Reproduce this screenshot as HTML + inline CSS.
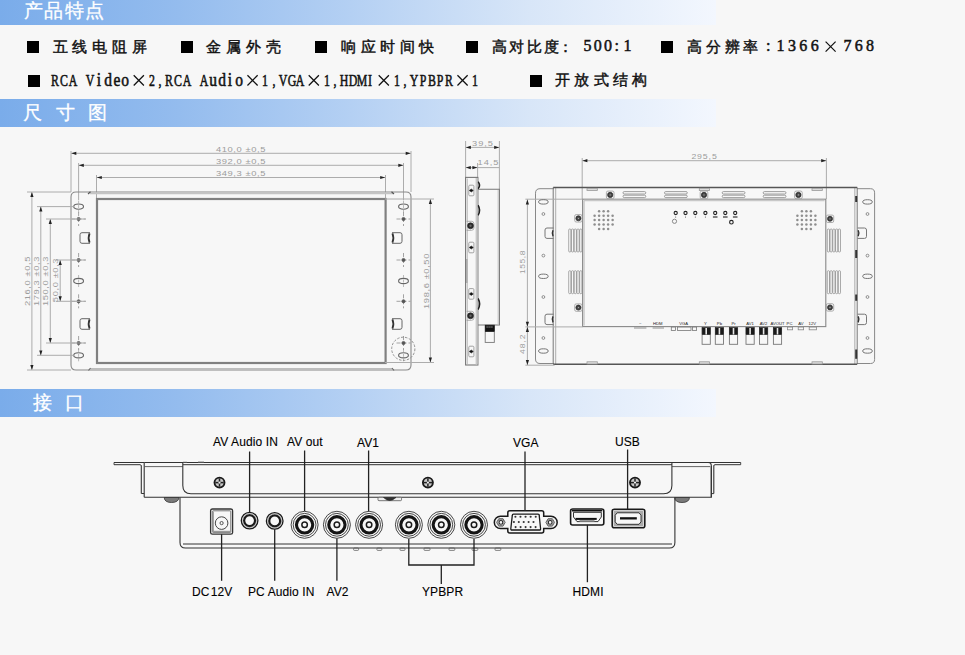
<!DOCTYPE html>
<html><head><meta charset="utf-8"><style>
*{margin:0;padding:0;box-sizing:border-box}
html,body{width:965px;height:655px;overflow:hidden;background:#f7f7f7}
body{position:relative;font-family:"Liberation Sans",sans-serif}
.bar{position:absolute;left:0;width:716px;background:linear-gradient(to right,#7aacea 0%,#94bcee 25%,#b4d0f3 49%,#d8e6f8 74%,#f3f7fe 100%)}
.bt{position:absolute;color:#fff;font-size:18px;line-height:18px;white-space:nowrap;-webkit-text-stroke:0.3px #fff}
.sq{position:absolute;width:12px;height:12px;background:#000}
.t{position:absolute;white-space:nowrap;color:#111;line-height:16px}
.cj{font-size:15px;font-weight:normal;-webkit-text-stroke:0.45px #111}
.mn{font-family:"Liberation Mono",monospace;font-size:14.5px}
svg{position:absolute;left:0;top:0}
.lab{position:absolute;white-space:nowrap;font-size:11.5px;line-height:12px;color:#000;-webkit-text-stroke:0.1px #000}
</style></head>
<body>
<div class="bar" style="top:0;height:25px"></div>
<div class="bt" style="left:23.5px;top:2px;letter-spacing:1.5px;font-size:19px">产品特点</div>
<div class="bar" style="top:99px;height:28px"></div>
<div class="bt" style="left:23px;top:103.5px;font-size:19px">尺</div>
<div class="bt" style="left:55.5px;top:103.5px;font-size:19px">寸</div>
<div class="bt" style="left:87.5px;top:103.5px;font-size:19px">图</div>
<div class="bar" style="top:389px;height:27.5px"></div>
<div class="bt" style="left:32.5px;top:393.5px;font-size:19px">接</div>
<div class="bt" style="left:65px;top:393.5px;font-size:19px">口</div>
<div class="sq" style="left:26.6px;top:40.8px"></div>
<div class="sq" style="left:180.6px;top:41px"></div>
<div class="sq" style="left:315.2px;top:41px"></div>
<div class="sq" style="left:466px;top:41px"></div>
<div class="sq" style="left:661px;top:41px"></div>
<div class="sq" style="left:28px;top:75px"></div>
<div class="sq" style="left:529.5px;top:75px"></div>
<div class="t cj" style="left:52.5px;top:38.5px;letter-spacing:4.9px;font-size:15px">五线电阻屏</div>
<div class="t cj" style="left:206px;top:38.5px;letter-spacing:4.9px;font-size:15px">金属外壳</div>
<div class="t cj" style="left:341px;top:38.5px;letter-spacing:4.6px;font-size:15px">响应时间快</div>
<div class="t cj" style="left:492px;top:38.5px;letter-spacing:2.4px;font-size:15px">高对比度</div>
<div class="t cj" style="left:558.3px;top:38.5px;letter-spacing:0px;font-size:15px">：</div>
<div class="t cj" style="left:687px;top:38.5px;letter-spacing:3.8px;font-size:15px">高分辨率</div>
<div class="t cj" style="left:555px;top:72px;letter-spacing:4.3px;font-size:15px">开放式结构</div>
<div class="t" style="left:583.5px;top:38px;letter-spacing:2.3px;font-size:16px;font-weight:normal;-webkit-text-stroke:0.5px #111;font-family:'Liberation Serif',serif">500:</div>
<div class="t" style="left:623.5px;top:38px;letter-spacing:0px;font-size:16px;font-weight:normal;-webkit-text-stroke:0.5px #111;font-family:'Liberation Serif',serif">1</div>
<div class="t" style="left:766px;top:38px;letter-spacing:0px;font-size:16px;font-weight:normal;-webkit-text-stroke:0.5px #111;font-family:'Liberation Serif',serif">:</div>
<div class="t" style="left:776.5px;top:38px;letter-spacing:3.4px;font-size:16px;font-weight:normal;-webkit-text-stroke:0.5px #111;font-family:'Liberation Serif',serif">1366</div>
<div class="t" style="left:843.5px;top:38px;letter-spacing:3.3px;font-size:16px;font-weight:normal;-webkit-text-stroke:0.5px #111;font-family:'Liberation Serif',serif">768</div>
<div class="t" style="left:45.38px;top:71.50px;width:20px;text-align:center;font-family:'Liberation Serif',serif;font-size:16px;line-height:18px;transform:scaleX(0.74);-webkit-text-stroke:0.55px #111">R</div>
<div class="t" style="left:54.12px;top:71.50px;width:20px;text-align:center;font-family:'Liberation Serif',serif;font-size:16px;line-height:18px;transform:scaleX(0.74);-webkit-text-stroke:0.55px #111">C</div>
<div class="t" style="left:62.88px;top:71.50px;width:20px;text-align:center;font-family:'Liberation Serif',serif;font-size:16px;line-height:18px;transform:scaleX(0.74);-webkit-text-stroke:0.55px #111">A</div>
<div class="t" style="left:80.38px;top:71.50px;width:20px;text-align:center;font-family:'Liberation Serif',serif;font-size:16px;line-height:18px;transform:scaleX(0.74);-webkit-text-stroke:0.55px #111">V</div>
<div class="t" style="left:89.12px;top:70.83px;width:20px;text-align:center;font-family:'Liberation Serif',serif;font-size:18px;line-height:18px;transform:scaleX(0.86);-webkit-text-stroke:0.55px #111">i</div>
<div class="t" style="left:97.88px;top:70.83px;width:20px;text-align:center;font-family:'Liberation Serif',serif;font-size:18px;line-height:18px;transform:scaleX(0.86);-webkit-text-stroke:0.55px #111">d</div>
<div class="t" style="left:106.62px;top:70.83px;width:20px;text-align:center;font-family:'Liberation Serif',serif;font-size:18px;line-height:18px;transform:scaleX(0.86);-webkit-text-stroke:0.55px #111">e</div>
<div class="t" style="left:115.38px;top:70.83px;width:20px;text-align:center;font-family:'Liberation Serif',serif;font-size:18px;line-height:18px;transform:scaleX(0.86);-webkit-text-stroke:0.55px #111">o</div>
<div class="t" style="left:141.62px;top:71.50px;width:20px;text-align:center;font-family:'Liberation Serif',serif;font-size:16px;line-height:18px;transform:scaleX(0.74);-webkit-text-stroke:0.55px #111">2</div>
<div class="t" style="left:150.38px;top:71.50px;width:20px;text-align:center;font-family:'Liberation Serif',serif;font-size:16px;line-height:18px;transform:scaleX(0.74);-webkit-text-stroke:0.55px #111">,</div>
<div class="t" style="left:159.12px;top:71.50px;width:20px;text-align:center;font-family:'Liberation Serif',serif;font-size:16px;line-height:18px;transform:scaleX(0.74);-webkit-text-stroke:0.55px #111">R</div>
<div class="t" style="left:167.88px;top:71.50px;width:20px;text-align:center;font-family:'Liberation Serif',serif;font-size:16px;line-height:18px;transform:scaleX(0.74);-webkit-text-stroke:0.55px #111">C</div>
<div class="t" style="left:176.62px;top:71.50px;width:20px;text-align:center;font-family:'Liberation Serif',serif;font-size:16px;line-height:18px;transform:scaleX(0.74);-webkit-text-stroke:0.55px #111">A</div>
<div class="t" style="left:194.12px;top:71.50px;width:20px;text-align:center;font-family:'Liberation Serif',serif;font-size:16px;line-height:18px;transform:scaleX(0.74);-webkit-text-stroke:0.55px #111">A</div>
<div class="t" style="left:202.88px;top:70.83px;width:20px;text-align:center;font-family:'Liberation Serif',serif;font-size:18px;line-height:18px;transform:scaleX(0.86);-webkit-text-stroke:0.55px #111">u</div>
<div class="t" style="left:211.62px;top:70.83px;width:20px;text-align:center;font-family:'Liberation Serif',serif;font-size:18px;line-height:18px;transform:scaleX(0.86);-webkit-text-stroke:0.55px #111">d</div>
<div class="t" style="left:220.38px;top:70.83px;width:20px;text-align:center;font-family:'Liberation Serif',serif;font-size:18px;line-height:18px;transform:scaleX(0.86);-webkit-text-stroke:0.55px #111">i</div>
<div class="t" style="left:229.12px;top:70.83px;width:20px;text-align:center;font-family:'Liberation Serif',serif;font-size:18px;line-height:18px;transform:scaleX(0.86);-webkit-text-stroke:0.55px #111">o</div>
<div class="t" style="left:255.38px;top:71.50px;width:20px;text-align:center;font-family:'Liberation Serif',serif;font-size:16px;line-height:18px;transform:scaleX(0.74);-webkit-text-stroke:0.55px #111">1</div>
<div class="t" style="left:264.12px;top:71.50px;width:20px;text-align:center;font-family:'Liberation Serif',serif;font-size:16px;line-height:18px;transform:scaleX(0.74);-webkit-text-stroke:0.55px #111">,</div>
<div class="t" style="left:272.88px;top:71.50px;width:20px;text-align:center;font-family:'Liberation Serif',serif;font-size:16px;line-height:18px;transform:scaleX(0.74);-webkit-text-stroke:0.55px #111">V</div>
<div class="t" style="left:281.62px;top:71.50px;width:20px;text-align:center;font-family:'Liberation Serif',serif;font-size:16px;line-height:18px;transform:scaleX(0.74);-webkit-text-stroke:0.55px #111">G</div>
<div class="t" style="left:290.38px;top:71.50px;width:20px;text-align:center;font-family:'Liberation Serif',serif;font-size:16px;line-height:18px;transform:scaleX(0.74);-webkit-text-stroke:0.55px #111">A</div>
<div class="t" style="left:316.62px;top:71.50px;width:20px;text-align:center;font-family:'Liberation Serif',serif;font-size:16px;line-height:18px;transform:scaleX(0.74);-webkit-text-stroke:0.55px #111">1</div>
<div class="t" style="left:325.38px;top:71.50px;width:20px;text-align:center;font-family:'Liberation Serif',serif;font-size:16px;line-height:18px;transform:scaleX(0.74);-webkit-text-stroke:0.55px #111">,</div>
<div class="t" style="left:334.12px;top:71.50px;width:20px;text-align:center;font-family:'Liberation Serif',serif;font-size:16px;line-height:18px;transform:scaleX(0.74);-webkit-text-stroke:0.55px #111">H</div>
<div class="t" style="left:342.88px;top:71.50px;width:20px;text-align:center;font-family:'Liberation Serif',serif;font-size:16px;line-height:18px;transform:scaleX(0.74);-webkit-text-stroke:0.55px #111">D</div>
<div class="t" style="left:351.62px;top:71.50px;width:20px;text-align:center;font-family:'Liberation Serif',serif;font-size:16px;line-height:18px;transform:scaleX(0.74);-webkit-text-stroke:0.55px #111">M</div>
<div class="t" style="left:360.38px;top:71.50px;width:20px;text-align:center;font-family:'Liberation Serif',serif;font-size:16px;line-height:18px;transform:scaleX(0.74);-webkit-text-stroke:0.55px #111">I</div>
<div class="t" style="left:386.62px;top:71.50px;width:20px;text-align:center;font-family:'Liberation Serif',serif;font-size:16px;line-height:18px;transform:scaleX(0.74);-webkit-text-stroke:0.55px #111">1</div>
<div class="t" style="left:395.38px;top:71.50px;width:20px;text-align:center;font-family:'Liberation Serif',serif;font-size:16px;line-height:18px;transform:scaleX(0.74);-webkit-text-stroke:0.55px #111">,</div>
<div class="t" style="left:404.12px;top:71.50px;width:20px;text-align:center;font-family:'Liberation Serif',serif;font-size:16px;line-height:18px;transform:scaleX(0.74);-webkit-text-stroke:0.55px #111">Y</div>
<div class="t" style="left:412.88px;top:71.50px;width:20px;text-align:center;font-family:'Liberation Serif',serif;font-size:16px;line-height:18px;transform:scaleX(0.74);-webkit-text-stroke:0.55px #111">P</div>
<div class="t" style="left:421.62px;top:71.50px;width:20px;text-align:center;font-family:'Liberation Serif',serif;font-size:16px;line-height:18px;transform:scaleX(0.74);-webkit-text-stroke:0.55px #111">B</div>
<div class="t" style="left:430.38px;top:71.50px;width:20px;text-align:center;font-family:'Liberation Serif',serif;font-size:16px;line-height:18px;transform:scaleX(0.74);-webkit-text-stroke:0.55px #111">P</div>
<div class="t" style="left:439.12px;top:71.50px;width:20px;text-align:center;font-family:'Liberation Serif',serif;font-size:16px;line-height:18px;transform:scaleX(0.74);-webkit-text-stroke:0.55px #111">R</div>
<div class="t" style="left:465.38px;top:71.50px;width:20px;text-align:center;font-family:'Liberation Serif',serif;font-size:16px;line-height:18px;transform:scaleX(0.74);-webkit-text-stroke:0.55px #111">1</div>
<div class="lab" style="left:213px;top:435.5px;font-size:12px;letter-spacing:0.1px">AV Audio IN</div>
<div class="lab" style="left:287px;top:435.5px;font-size:12px;letter-spacing:0.1px">AV out</div>
<div class="lab" style="left:357px;top:436.5px;font-size:12px;letter-spacing:0.1px">AV1</div>
<div class="lab" style="left:513px;top:437px;font-size:12px;letter-spacing:0.1px">VGA</div>
<div class="lab" style="left:615px;top:436px;font-size:12px;letter-spacing:0.1px">USB</div>
<div class="lab" style="left:192px;top:585.5px;font-size:12px;letter-spacing:0.1px">DC&#8202;12V</div>
<div class="lab" style="left:248px;top:585.5px;font-size:12px;letter-spacing:0.1px">PC Audio IN</div>
<div class="lab" style="left:326.5px;top:585.5px;font-size:12px;letter-spacing:0.1px">AV2</div>
<div class="lab" style="left:422px;top:585.5px;font-size:12px;letter-spacing:0.1px">YPBPR</div>
<div class="lab" style="left:572.5px;top:586px;font-size:12px;letter-spacing:0.1px">HDMI</div>
<svg width="965" height="655" viewBox="0 0 965 655">
<path d="M825.60 41.60L835.60 51.60M835.60 41.60L825.60 51.60" stroke="#111" stroke-width="1.2" fill="none"/>
<path d="M133.70 75.30L143.90 85.50M143.90 75.30L133.70 85.50" stroke="#111" stroke-width="1.25" fill="none"/>
<path d="M247.45 75.30L257.65 85.50M257.65 75.30L247.45 85.50" stroke="#111" stroke-width="1.25" fill="none"/>
<path d="M308.70 75.30L318.90 85.50M318.90 75.30L308.70 85.50" stroke="#111" stroke-width="1.25" fill="none"/>
<path d="M378.70 75.30L388.90 85.50M388.90 75.30L378.70 85.50" stroke="#111" stroke-width="1.25" fill="none"/>
<path d="M457.45 75.30L467.65 85.50M467.65 75.30L457.45 85.50" stroke="#111" stroke-width="1.25" fill="none"/>
<line x1="71" y1="151" x2="71" y2="192" stroke="#acacac" stroke-width="1" />
<line x1="411" y1="151" x2="411" y2="192" stroke="#acacac" stroke-width="1" />
<line x1="78.6" y1="163" x2="78.6" y2="200" stroke="#acacac" stroke-width="1" />
<line x1="403.5" y1="163" x2="403.5" y2="200" stroke="#acacac" stroke-width="1" />
<line x1="96.5" y1="175" x2="96.5" y2="199" stroke="#acacac" stroke-width="1" />
<line x1="385.5" y1="175" x2="385.5" y2="199" stroke="#acacac" stroke-width="1" />
<line x1="71.3" y1="153.3" x2="410.7" y2="153.3" stroke="#acacac" stroke-width="1" />
<polygon points="71.3,153.3 76.3,151.7 76.3,154.9" fill="#222"/>
<polygon points="410.7,153.3 405.7,151.7 405.7,154.9" fill="#222"/>
<line x1="78.8" y1="165.3" x2="403.3" y2="165.3" stroke="#acacac" stroke-width="1" />
<polygon points="78.8,165.3 83.8,163.7 83.8,166.9" fill="#222"/>
<polygon points="403.3,165.3 398.3,163.7 398.3,166.9" fill="#222"/>
<line x1="96.8" y1="177.5" x2="385.2" y2="177.5" stroke="#acacac" stroke-width="1" />
<polygon points="96.8,177.5 101.8,175.9 101.8,179.1" fill="#222"/>
<polygon points="385.2,177.5 380.2,175.9 380.2,179.1" fill="#222"/>
<text x="0" y="0" transform="translate(241,152) scale(1.2,1)" font-family="Liberation Sans, sans-serif" font-size="7.8" letter-spacing="0.5" fill="#9c9c9c" text-anchor="middle">410,0 ±0,5</text>
<text x="0" y="0" transform="translate(241,164) scale(1.2,1)" font-family="Liberation Sans, sans-serif" font-size="7.8" letter-spacing="0.5" fill="#9c9c9c" text-anchor="middle">392,0 ±0,5</text>
<text x="0" y="0" transform="translate(241,176) scale(1.2,1)" font-family="Liberation Sans, sans-serif" font-size="7.8" letter-spacing="0.5" fill="#9c9c9c" text-anchor="middle">349,3 ±0,5</text>
<path d="M71 197Q71 192 76 192L406 192Q411 192 411 197L411 365Q411 370 406 370L76 370Q71 370 71 365Z" stroke="#8a8a8a" stroke-width="1.1" fill="none" />
<line x1="90" y1="193.2" x2="393" y2="193.2" stroke="#c4c4c4" stroke-width="2" />
<line x1="88" y1="194" x2="90.5" y2="191.8" stroke="#555" stroke-width="1.2" />
<line x1="394" y1="194" x2="391.5" y2="191.8" stroke="#555" stroke-width="1.2" />
<line x1="90" y1="369.2" x2="392.5" y2="369.2" stroke="#bdbdbd" stroke-width="2.6" />
<line x1="88.5" y1="370.5" x2="90.5" y2="368" stroke="#666" stroke-width="1.1" />
<line x1="394" y1="370.5" x2="392" y2="368" stroke="#666" stroke-width="1.1" />
<rect x="97" y="199" width="288.6" height="164" rx="0" stroke="#808080" stroke-width="2.2" fill="none" />
<ellipse cx="78.6" cy="206.6" rx="4.9" ry="2.6" stroke="#666" stroke-width="1.1" fill="none"/>
<line x1="78.6" y1="200.6" x2="78.6" y2="212.6" stroke="#aaa" stroke-width="0.8" stroke-dasharray="3 1.5"/>
<ellipse cx="78.6" cy="281" rx="4.9" ry="2.6" stroke="#666" stroke-width="1.1" fill="none"/>
<line x1="78.6" y1="275" x2="78.6" y2="287" stroke="#aaa" stroke-width="0.8" stroke-dasharray="3 1.5"/>
<ellipse cx="78.6" cy="355.3" rx="4.9" ry="2.6" stroke="#666" stroke-width="1.1" fill="none"/>
<line x1="78.6" y1="349.3" x2="78.6" y2="361.3" stroke="#aaa" stroke-width="0.8" stroke-dasharray="3 1.5"/>
<line x1="71.6" y1="219" x2="85.6" y2="219" stroke="#999" stroke-width="0.9" stroke-dasharray="4 2"/>
<line x1="78.6" y1="212" x2="78.6" y2="226" stroke="#999" stroke-width="0.9" stroke-dasharray="4 2"/>
<circle cx="78.6" cy="219" r="1.6" stroke="#555" stroke-width="0.8" fill="#555" />
<line x1="71.6" y1="260" x2="85.6" y2="260" stroke="#999" stroke-width="0.9" stroke-dasharray="4 2"/>
<line x1="78.6" y1="253" x2="78.6" y2="267" stroke="#999" stroke-width="0.9" stroke-dasharray="4 2"/>
<circle cx="78.6" cy="260" r="1.6" stroke="#555" stroke-width="0.8" fill="#555" />
<line x1="71.6" y1="301.3" x2="85.6" y2="301.3" stroke="#999" stroke-width="0.9" stroke-dasharray="4 2"/>
<line x1="78.6" y1="294.3" x2="78.6" y2="308.3" stroke="#999" stroke-width="0.9" stroke-dasharray="4 2"/>
<circle cx="78.6" cy="301.3" r="1.6" stroke="#555" stroke-width="0.8" fill="#555" />
<line x1="71.6" y1="343" x2="85.6" y2="343" stroke="#999" stroke-width="0.9" stroke-dasharray="4 2"/>
<line x1="78.6" y1="336" x2="78.6" y2="350" stroke="#999" stroke-width="0.9" stroke-dasharray="4 2"/>
<circle cx="78.6" cy="343" r="1.6" stroke="#555" stroke-width="0.8" fill="#555" />
<ellipse cx="403.5" cy="206.6" rx="4.9" ry="2.6" stroke="#666" stroke-width="1.1" fill="none"/>
<line x1="403.5" y1="200.6" x2="403.5" y2="212.6" stroke="#aaa" stroke-width="0.8" stroke-dasharray="3 1.5"/>
<ellipse cx="403.5" cy="281" rx="4.9" ry="2.6" stroke="#666" stroke-width="1.1" fill="none"/>
<line x1="403.5" y1="275" x2="403.5" y2="287" stroke="#aaa" stroke-width="0.8" stroke-dasharray="3 1.5"/>
<ellipse cx="403.5" cy="355.3" rx="4.9" ry="2.6" stroke="#666" stroke-width="1.1" fill="none"/>
<line x1="403.5" y1="349.3" x2="403.5" y2="361.3" stroke="#aaa" stroke-width="0.8" stroke-dasharray="3 1.5"/>
<line x1="396.5" y1="219" x2="410.5" y2="219" stroke="#999" stroke-width="0.9" stroke-dasharray="4 2"/>
<line x1="403.5" y1="212" x2="403.5" y2="226" stroke="#999" stroke-width="0.9" stroke-dasharray="4 2"/>
<circle cx="403.5" cy="219" r="1.6" stroke="#555" stroke-width="0.8" fill="#555" />
<line x1="396.5" y1="260" x2="410.5" y2="260" stroke="#999" stroke-width="0.9" stroke-dasharray="4 2"/>
<line x1="403.5" y1="253" x2="403.5" y2="267" stroke="#999" stroke-width="0.9" stroke-dasharray="4 2"/>
<circle cx="403.5" cy="260" r="1.6" stroke="#555" stroke-width="0.8" fill="#555" />
<line x1="396.5" y1="301.3" x2="410.5" y2="301.3" stroke="#999" stroke-width="0.9" stroke-dasharray="4 2"/>
<line x1="403.5" y1="294.3" x2="403.5" y2="308.3" stroke="#999" stroke-width="0.9" stroke-dasharray="4 2"/>
<circle cx="403.5" cy="301.3" r="1.6" stroke="#555" stroke-width="0.8" fill="#555" />
<line x1="396.5" y1="343" x2="410.5" y2="343" stroke="#999" stroke-width="0.9" stroke-dasharray="4 2"/>
<line x1="403.5" y1="336" x2="403.5" y2="350" stroke="#999" stroke-width="0.9" stroke-dasharray="4 2"/>
<circle cx="403.5" cy="343" r="1.6" stroke="#555" stroke-width="0.8" fill="#555" />
<path d="M90 232.7L82 232.7Q80 232.7 80 234.7L80 241.3Q80 243.3 82 243.3L90 243.3" stroke="#666" stroke-width="1" fill="none" />
<path d="M89.6 233.4Q87.6 238 89.6 242.6" stroke="#333" stroke-width="1.8" fill="none" />
<path d="M392 232.7L400 232.7Q402 232.7 402 234.7L402 241.3Q402 243.3 400 243.3L392 243.3" stroke="#666" stroke-width="1" fill="none" />
<path d="M392.4 233.4Q394.4 238 392.4 242.6" stroke="#333" stroke-width="1.8" fill="none" />
<path d="M90 318.7L82 318.7Q80 318.7 80 320.7L80 327.3Q80 329.3 82 329.3L90 329.3" stroke="#666" stroke-width="1" fill="none" />
<path d="M89.6 319.4Q87.6 324 89.6 328.6" stroke="#333" stroke-width="1.8" fill="none" />
<path d="M392 318.7L400 318.7Q402 318.7 402 320.7L402 327.3Q402 329.3 400 329.3L392 329.3" stroke="#666" stroke-width="1" fill="none" />
<path d="M392.4 319.4Q394.4 324 392.4 328.6" stroke="#333" stroke-width="1.8" fill="none" />
<circle cx="403.3" cy="348.8" r="11.6" stroke="#888" stroke-width="0.9" fill="none" stroke-dasharray="2.5 1.5"/>
<line x1="31.9" y1="192" x2="31.9" y2="370" stroke="#acacac" stroke-width="1" />
<polygon points="31.9,192 30.3,197 33.5,197" fill="#222"/>
<polygon points="31.9,370 30.3,365 33.5,365" fill="#222"/>
<line x1="40.8" y1="206.4" x2="40.8" y2="355.5" stroke="#acacac" stroke-width="1" />
<polygon points="40.8,206.4 39.2,211.4 42.4,211.4" fill="#222"/>
<polygon points="40.8,355.5 39.2,350.5 42.4,350.5" fill="#222"/>
<line x1="50.3" y1="219" x2="50.3" y2="343" stroke="#acacac" stroke-width="1" />
<polygon points="50.3,219 48.7,224 51.9,224" fill="#222"/>
<polygon points="50.3,343 48.7,338 51.9,338" fill="#222"/>
<line x1="60.2" y1="260" x2="60.2" y2="301.3" stroke="#acacac" stroke-width="1" />
<polygon points="60.2,260 58.6,265 61.8,265" fill="#222"/>
<polygon points="60.2,301.3 58.6,296.3 61.8,296.3" fill="#222"/>
<line x1="27" y1="192" x2="71" y2="192" stroke="#acacac" stroke-width="1" />
<line x1="27" y1="370" x2="71" y2="370" stroke="#acacac" stroke-width="1" />
<line x1="37" y1="206.6" x2="73.8" y2="206.6" stroke="#acacac" stroke-width="1" />
<line x1="37" y1="355.3" x2="73.8" y2="355.3" stroke="#acacac" stroke-width="1" />
<line x1="46" y1="219" x2="86" y2="219" stroke="#acacac" stroke-width="1" />
<line x1="46" y1="343" x2="86" y2="343" stroke="#acacac" stroke-width="1" />
<line x1="56" y1="260" x2="86" y2="260" stroke="#acacac" stroke-width="1" />
<line x1="56" y1="301.3" x2="86" y2="301.3" stroke="#acacac" stroke-width="1" />
<text x="0" y="0" transform="translate(29.5,281) rotate(-90) scale(1.2,1)" font-family="Liberation Sans, sans-serif" font-size="7.8" letter-spacing="0.5" fill="#9c9c9c" text-anchor="middle">216,0 ±0,5</text>
<text x="0" y="0" transform="translate(38.9,281) rotate(-90) scale(1.2,1)" font-family="Liberation Sans, sans-serif" font-size="7.8" letter-spacing="0.5" fill="#9c9c9c" text-anchor="middle">179,3 ±0,3</text>
<text x="0" y="0" transform="translate(48.4,281) rotate(-90) scale(1.2,1)" font-family="Liberation Sans, sans-serif" font-size="7.8" letter-spacing="0.5" fill="#9c9c9c" text-anchor="middle">150,0 ±0,3</text>
<text x="0" y="0" transform="translate(58.4,280) rotate(-90) scale(1.2,1)" font-family="Liberation Sans, sans-serif" font-size="7.8" letter-spacing="0.5" fill="#9c9c9c" text-anchor="middle">50,0 ±0,3</text>
<line x1="430.4" y1="199" x2="430.4" y2="362.5" stroke="#acacac" stroke-width="1" />
<polygon points="430.4,199 428.8,204 432,204" fill="#222"/>
<polygon points="430.4,362.5 428.8,357.5 432,357.5" fill="#222"/>
<line x1="385" y1="199" x2="434" y2="199" stroke="#acacac" stroke-width="1" />
<line x1="385" y1="362.5" x2="434" y2="362.5" stroke="#acacac" stroke-width="1" />
<text x="0" y="0" transform="translate(429,281) rotate(-90) scale(1.2,1)" font-family="Liberation Sans, sans-serif" font-size="7.8" letter-spacing="0.5" fill="#9c9c9c" text-anchor="middle">198,6 ±0,50</text>
<line x1="465.6" y1="141" x2="465.6" y2="177.4" stroke="#acacac" stroke-width="1" />
<line x1="477.6" y1="163" x2="477.6" y2="177.4" stroke="#acacac" stroke-width="1" />
<line x1="499.4" y1="141" x2="499.4" y2="189.3" stroke="#acacac" stroke-width="1" />
<line x1="465.8" y1="147.4" x2="499.2" y2="147.4" stroke="#acacac" stroke-width="1" />
<polygon points="465.8,147.4 470.8,145.8 470.8,149" fill="#222"/>
<polygon points="499.2,147.4 494.2,145.8 494.2,149" fill="#222"/>
<text x="0" y="0" transform="translate(483,146) scale(1.2,1)" font-family="Liberation Sans, sans-serif" font-size="7.7" letter-spacing="0.8" fill="#9c9c9c" text-anchor="middle">39,5</text>
<line x1="465.6" y1="167.6" x2="499.4" y2="167.6" stroke="#acacac" stroke-width="1" />
<polygon points="465.8,167.6 470.8,166 470.8,169.2" fill="#222"/>
<polygon points="477.4,167.6 472.4,166 472.4,169.2" fill="#222"/>
<text x="0" y="0" transform="translate(488.5,165.3) scale(1.2,1)" font-family="Liberation Sans, sans-serif" font-size="7.7" letter-spacing="0.8" fill="#9c9c9c" text-anchor="middle">14,5</text>
<rect x="465.6" y="177.4" width="12.3" height="187.6" rx="0" stroke="#777" stroke-width="1.1" fill="none" />
<line x1="467.3" y1="178.5" x2="467.3" y2="364" stroke="#bdbdbd" stroke-width="1" />
<line x1="466.8" y1="259" x2="466.8" y2="283" stroke="#aaa" stroke-width="1.5" />
<path d="M477.9 189.3L499.4 189.3L499.4 325L477.9 325" stroke="#777" stroke-width="1.1" fill="none" />
<line x1="498.2" y1="190" x2="498.2" y2="324.5" stroke="#c8c8c8" stroke-width="1.2" />
<path d="M478 181.7Q481.2 185.25 478 188.8" stroke="#222" stroke-width="1.6" fill="none" />
<path d="M478 205.2Q481.2 210.25 478 215.3" stroke="#222" stroke-width="1.6" fill="none" />
<path d="M478 298.5Q481.2 304.0 478 309.5" stroke="#222" stroke-width="1.6" fill="none" />
<line x1="476.6" y1="178" x2="476.6" y2="364.5" stroke="#c8c8c8" stroke-width="2" />
<rect x="468.8" y="185.2" width="5.1" height="10.6" rx="1" stroke="#999" stroke-width="0.9" fill="none" />
<path d="M469.3 190.5L471.3 189.0L473.3 190.5L471.3 192.0Z" stroke="#111" stroke-width="0.5" fill="#111" />
<rect x="468.8" y="242.2" width="5.1" height="10.6" rx="1" stroke="#999" stroke-width="0.9" fill="none" />
<path d="M469.3 247.5L471.3 246.0L473.3 247.5L471.3 249.0Z" stroke="#111" stroke-width="0.5" fill="#111" />
<rect x="468.8" y="288.6" width="5.1" height="10.6" rx="1" stroke="#999" stroke-width="0.9" fill="none" />
<path d="M469.3 293.9L471.3 292.4L473.3 293.9L471.3 295.4Z" stroke="#111" stroke-width="0.5" fill="#111" />
<rect x="468.8" y="346.2" width="5.1" height="10.6" rx="1" stroke="#999" stroke-width="0.9" fill="none" />
<path d="M469.3 351.5L471.3 350.0L473.3 351.5L471.3 353.0Z" stroke="#111" stroke-width="0.5" fill="#111" />
<path d="M466.5 221.3L471.5 221.3Q474 221.3 474 223.8L474 227.8Q474 230.3 471.5 230.3L466.5 230.3" stroke="#999" stroke-width="0.8" fill="none" />
<circle cx="470.5" cy="225.8" r="3" stroke="#222" stroke-width="0.6" fill="#2a2a2a" />
<circle cx="470.5" cy="225.8" r="1.2" stroke="#777" stroke-width="0" fill="#666" />
<path d="M466.5 311.3L471.5 311.3Q474 311.3 474 313.8L474 317.8Q474 320.3 471.5 320.3L466.5 320.3" stroke="#999" stroke-width="0.8" fill="none" />
<circle cx="470.5" cy="315.8" r="3" stroke="#222" stroke-width="0.6" fill="#2a2a2a" />
<circle cx="470.5" cy="315.8" r="1.2" stroke="#777" stroke-width="0" fill="#666" />
<rect x="485.2" y="325" width="9.1" height="17.4" rx="0" stroke="#777" stroke-width="0.9" fill="none" />
<rect x="485.2" y="325.3" width="9.1" height="6.4" rx="0" stroke="#111" stroke-width="0.5" fill="#111" />
<line x1="486.5" y1="327" x2="493" y2="327" stroke="#ccc" stroke-width="0.9" stroke-dasharray="1.2 0.8"/>
<line x1="582.2" y1="158" x2="582.2" y2="199" stroke="#acacac" stroke-width="1" />
<line x1="826.4" y1="158" x2="826.4" y2="199" stroke="#acacac" stroke-width="1" />
<line x1="582.4" y1="160.7" x2="826.2" y2="160.7" stroke="#acacac" stroke-width="1" />
<polygon points="582.4,160.7 587.4,159.1 587.4,162.3" fill="#222"/>
<polygon points="826.2,160.7 821.2,159.1 821.2,162.3" fill="#222"/>
<text x="0" y="0" transform="translate(704.5,158.9) scale(1.25,1)" font-family="Liberation Sans, sans-serif" font-size="7" letter-spacing="0.7" fill="#9c9c9c" text-anchor="middle">295,5</text>
<path d="M554 188.7L540 188.7Q535.5 188.7 535.5 193.2L535.5 359Q535.5 363.5 540 363.5L554 363.5" stroke="#888" stroke-width="1" fill="none" />
<path d="M857 188.7L870.5 188.7Q874.6 188.7 874.6 192.8L874.6 359.4Q874.6 363.5 870.5 363.5L857 363.5" stroke="#888" stroke-width="1" fill="none" />
<line x1="553.2" y1="187.5" x2="553.2" y2="364" stroke="#777" stroke-width="1" />
<line x1="555.6" y1="187.5" x2="555.6" y2="364" stroke="#bbb" stroke-width="1.3" />
<line x1="857.2" y1="187.5" x2="857.2" y2="364" stroke="#777" stroke-width="1" />
<line x1="854.8" y1="187.5" x2="854.8" y2="364" stroke="#bbb" stroke-width="1.3" />
<line x1="553.2" y1="187.6" x2="857.2" y2="187.6" stroke="#555" stroke-width="1.5" />
<line x1="553.2" y1="364.2" x2="857.2" y2="364.2" stroke="#555" stroke-width="1.6" />
<rect x="582.6" y="199.2" width="243.2" height="127.4" rx="0" stroke="#888" stroke-width="1.1" fill="none" />
<line x1="584" y1="200.5" x2="584" y2="325.5" stroke="#c8c8c8" stroke-width="1.5" />
<line x1="584" y1="200.5" x2="824.6" y2="200.5" stroke="#c8c8c8" stroke-width="1.5" />
<line x1="525.4" y1="199.2" x2="582.6" y2="199.2" stroke="#acacac" stroke-width="1" />
<line x1="525.4" y1="326.9" x2="582.6" y2="326.9" stroke="#acacac" stroke-width="1" />
<line x1="525.4" y1="365.2" x2="554.6" y2="365.2" stroke="#acacac" stroke-width="1" />
<line x1="527.4" y1="199.4" x2="527.4" y2="326.7" stroke="#acacac" stroke-width="1" />
<polygon points="527.4,199.4 525.8,204.4 529,204.4" fill="#222"/>
<polygon points="527.4,326.7 525.8,321.7 529,321.7" fill="#222"/>
<line x1="527.4" y1="327.1" x2="527.4" y2="365" stroke="#acacac" stroke-width="1" />
<polygon points="527.4,327.1 525.8,332.1 529,332.1" fill="#222"/>
<polygon points="527.4,365 525.8,360 529,360" fill="#222"/>
<text x="0" y="0" transform="translate(525.3,262) rotate(-90) scale(1.2,1)" font-family="Liberation Sans, sans-serif" font-size="7" letter-spacing="0.5" fill="#9c9c9c" text-anchor="middle">155,8</text>
<text x="0" y="0" transform="translate(525.3,343.8) rotate(-90) scale(1.2,1)" font-family="Liberation Sans, sans-serif" font-size="7" letter-spacing="0.8" fill="#9c9c9c" text-anchor="middle">48,2</text>
<rect x="606.4" y="191.1" width="7.6" height="7.6" rx="1.5" stroke="#999" stroke-width="0.8" fill="none" />
<circle cx="610.2" cy="194.9" r="2.6" stroke="#333" stroke-width="0.8" fill="#333" />
<circle cx="610.2" cy="194.9" r="1.3" stroke="#666" stroke-width="0.6" fill="none" />
<circle cx="610.2" cy="194.9" r="0.6" stroke="#bbb" stroke-width="0" fill="#bbb" />
<rect x="700.2" y="191.1" width="7.6" height="7.6" rx="1.5" stroke="#999" stroke-width="0.8" fill="none" />
<circle cx="704" cy="194.9" r="2.6" stroke="#333" stroke-width="0.8" fill="#333" />
<circle cx="704" cy="194.9" r="1.3" stroke="#666" stroke-width="0.6" fill="none" />
<circle cx="704" cy="194.9" r="0.6" stroke="#bbb" stroke-width="0" fill="#bbb" />
<rect x="794.6" y="191.1" width="7.6" height="7.6" rx="1.5" stroke="#999" stroke-width="0.8" fill="none" />
<circle cx="798.4" cy="194.9" r="2.6" stroke="#333" stroke-width="0.8" fill="#333" />
<circle cx="798.4" cy="194.9" r="1.3" stroke="#666" stroke-width="0.6" fill="none" />
<circle cx="798.4" cy="194.9" r="0.6" stroke="#bbb" stroke-width="0" fill="#bbb" />
<rect x="623" y="191.6" width="22.8" height="2.4" rx="1.2" stroke="#888" stroke-width="0.8" fill="none" />
<rect x="623" y="195.2" width="22.8" height="2.4" rx="1.2" stroke="#888" stroke-width="0.8" fill="none" />
<rect x="664.5" y="191.6" width="22.8" height="2.4" rx="1.2" stroke="#888" stroke-width="0.8" fill="none" />
<rect x="664.5" y="195.2" width="22.8" height="2.4" rx="1.2" stroke="#888" stroke-width="0.8" fill="none" />
<rect x="722.2" y="191.6" width="22.8" height="2.4" rx="1.2" stroke="#888" stroke-width="0.8" fill="none" />
<rect x="722.2" y="195.2" width="22.8" height="2.4" rx="1.2" stroke="#888" stroke-width="0.8" fill="none" />
<rect x="763.2" y="191.6" width="22.8" height="2.4" rx="1.2" stroke="#888" stroke-width="0.8" fill="none" />
<rect x="763.2" y="195.2" width="22.8" height="2.4" rx="1.2" stroke="#888" stroke-width="0.8" fill="none" />
<rect x="587" y="188.3" width="10.3" height="2.2" rx="0" stroke="#999" stroke-width="0.8" fill="#ddd" />
<rect x="587" y="361.8" width="10.3" height="2.2" rx="0" stroke="#999" stroke-width="0.8" fill="#ddd" />
<rect x="699.3" y="188.3" width="10.3" height="2.2" rx="0" stroke="#999" stroke-width="0.8" fill="#ddd" />
<rect x="699.3" y="361.8" width="10.3" height="2.2" rx="0" stroke="#999" stroke-width="0.8" fill="#ddd" />
<rect x="812" y="188.3" width="10.3" height="2.2" rx="0" stroke="#999" stroke-width="0.8" fill="#ddd" />
<rect x="812" y="361.8" width="10.3" height="2.2" rx="0" stroke="#999" stroke-width="0.8" fill="#ddd" />
<ellipse cx="543.4" cy="201.9" rx="4.8" ry="2.2" stroke="#666" stroke-width="0.9" fill="none"/>
<ellipse cx="543.4" cy="276.3" rx="4.8" ry="2.2" stroke="#666" stroke-width="0.9" fill="none"/>
<ellipse cx="543.4" cy="351" rx="4.8" ry="2.2" stroke="#666" stroke-width="0.9" fill="none"/>
<circle cx="543.4" cy="214" r="1.4" stroke="#777" stroke-width="0.8" fill="none" />
<circle cx="543.4" cy="255.6" r="1.4" stroke="#777" stroke-width="0.8" fill="none" />
<circle cx="543.4" cy="297" r="1.4" stroke="#777" stroke-width="0.8" fill="none" />
<circle cx="543.4" cy="338" r="1.4" stroke="#777" stroke-width="0.8" fill="none" />
<ellipse cx="867.5" cy="201.9" rx="4.8" ry="2.2" stroke="#666" stroke-width="0.9" fill="none"/>
<ellipse cx="867.5" cy="276.3" rx="4.8" ry="2.2" stroke="#666" stroke-width="0.9" fill="none"/>
<ellipse cx="867.5" cy="351" rx="4.8" ry="2.2" stroke="#666" stroke-width="0.9" fill="none"/>
<circle cx="867.5" cy="214" r="1.4" stroke="#777" stroke-width="0.8" fill="none" />
<circle cx="867.5" cy="255.6" r="1.4" stroke="#777" stroke-width="0.8" fill="none" />
<circle cx="867.5" cy="297" r="1.4" stroke="#777" stroke-width="0.8" fill="none" />
<circle cx="867.5" cy="338" r="1.4" stroke="#777" stroke-width="0.8" fill="none" />
<path d="M553.6 228.0L547 228.0Q545 228.0 545 230.0L545 236.39999999999998Q545 238.39999999999998 547 238.39999999999998L553.6 238.39999999999998" stroke="#777" stroke-width="1" fill="none" />
<path d="M553 230.2Q551.5 233.2 553 236.2" stroke="#333" stroke-width="1.4" fill="none" />
<path d="M857.5 228.0L864.5 228.0Q866.5 228.0 866.5 230.0L866.5 236.39999999999998Q866.5 238.39999999999998 864.5 238.39999999999998L857.5 238.39999999999998" stroke="#777" stroke-width="1" fill="none" />
<path d="M858.2 230.2Q859.7 233.2 858.2 236.2" stroke="#333" stroke-width="1.4" fill="none" />
<path d="M553.6 314.2L547 314.2Q545 314.2 545 316.2L545 322.59999999999997Q545 324.59999999999997 547 324.59999999999997L553.6 324.59999999999997" stroke="#777" stroke-width="1" fill="none" />
<path d="M553 316.4Q551.5 319.4 553 322.4" stroke="#333" stroke-width="1.4" fill="none" />
<path d="M857.5 314.2L864.5 314.2Q866.5 314.2 866.5 316.2L866.5 322.59999999999997Q866.5 324.59999999999997 864.5 324.59999999999997L857.5 324.59999999999997" stroke="#777" stroke-width="1" fill="none" />
<path d="M858.2 316.4Q859.7 319.4 858.2 322.4" stroke="#333" stroke-width="1.4" fill="none" />
<line x1="856.2" y1="196" x2="856.2" y2="202" stroke="#333" stroke-width="2" />
<line x1="856.2" y1="250" x2="856.2" y2="258" stroke="#333" stroke-width="2" />
<line x1="856.2" y1="294.5" x2="856.2" y2="300.8" stroke="#333" stroke-width="2" />
<line x1="856.2" y1="349.5" x2="856.2" y2="358.8" stroke="#333" stroke-width="2" />
<rect x="574.7" y="214.6" width="7.4" height="7.4" rx="1.5" stroke="#999" stroke-width="0.8" fill="none" />
<circle cx="578.4" cy="218.3" r="2.5" stroke="#333" stroke-width="0.8" fill="#333" />
<circle cx="578.4" cy="218.3" r="1.2" stroke="#666" stroke-width="0.6" fill="none" />
<circle cx="578.4" cy="218.3" r="0.6" stroke="#bbb" stroke-width="0" fill="#bbb" />
<rect x="574.7" y="303.9" width="7.4" height="7.4" rx="1.5" stroke="#999" stroke-width="0.8" fill="none" />
<circle cx="578.4" cy="307.6" r="2.5" stroke="#333" stroke-width="0.8" fill="#333" />
<circle cx="578.4" cy="307.6" r="1.2" stroke="#666" stroke-width="0.6" fill="none" />
<circle cx="578.4" cy="307.6" r="0.6" stroke="#bbb" stroke-width="0" fill="#bbb" />
<rect x="826.3" y="215.1" width="7.4" height="7.4" rx="1.5" stroke="#999" stroke-width="0.8" fill="none" />
<circle cx="830" cy="218.8" r="2.5" stroke="#333" stroke-width="0.8" fill="#333" />
<circle cx="830" cy="218.8" r="1.2" stroke="#666" stroke-width="0.6" fill="none" />
<circle cx="830" cy="218.8" r="0.6" stroke="#bbb" stroke-width="0" fill="#bbb" />
<rect x="826.3" y="303.7" width="7.4" height="7.4" rx="1.5" stroke="#999" stroke-width="0.8" fill="none" />
<circle cx="830" cy="307.4" r="2.5" stroke="#333" stroke-width="0.8" fill="#333" />
<circle cx="830" cy="307.4" r="1.2" stroke="#666" stroke-width="0.6" fill="none" />
<circle cx="830" cy="307.4" r="0.6" stroke="#bbb" stroke-width="0" fill="#bbb" />
<rect x="568.7" y="229" width="2.2" height="23" rx="1" stroke="#888" stroke-width="0.7" fill="none" />
<rect x="571.45" y="229" width="2.2" height="23" rx="1" stroke="#888" stroke-width="0.7" fill="none" />
<rect x="574.2" y="229" width="2.2" height="23" rx="1" stroke="#888" stroke-width="0.7" fill="none" />
<rect x="576.95" y="229" width="2.2" height="23" rx="1" stroke="#888" stroke-width="0.7" fill="none" />
<rect x="579.7" y="229" width="2.2" height="23" rx="1" stroke="#888" stroke-width="0.7" fill="none" />
<rect x="568.7" y="270.7" width="2.2" height="23" rx="1" stroke="#888" stroke-width="0.7" fill="none" />
<rect x="571.45" y="270.7" width="2.2" height="23" rx="1" stroke="#888" stroke-width="0.7" fill="none" />
<rect x="574.2" y="270.7" width="2.2" height="23" rx="1" stroke="#888" stroke-width="0.7" fill="none" />
<rect x="576.95" y="270.7" width="2.2" height="23" rx="1" stroke="#888" stroke-width="0.7" fill="none" />
<rect x="579.7" y="270.7" width="2.2" height="23" rx="1" stroke="#888" stroke-width="0.7" fill="none" />
<rect x="827.3" y="229" width="2.2" height="23" rx="1" stroke="#888" stroke-width="0.7" fill="none" />
<rect x="830.05" y="229" width="2.2" height="23" rx="1" stroke="#888" stroke-width="0.7" fill="none" />
<rect x="832.8" y="229" width="2.2" height="23" rx="1" stroke="#888" stroke-width="0.7" fill="none" />
<rect x="835.55" y="229" width="2.2" height="23" rx="1" stroke="#888" stroke-width="0.7" fill="none" />
<rect x="838.3" y="229" width="2.2" height="23" rx="1" stroke="#888" stroke-width="0.7" fill="none" />
<rect x="827.3" y="270.7" width="2.2" height="23" rx="1" stroke="#888" stroke-width="0.7" fill="none" />
<rect x="830.05" y="270.7" width="2.2" height="23" rx="1" stroke="#888" stroke-width="0.7" fill="none" />
<rect x="832.8" y="270.7" width="2.2" height="23" rx="1" stroke="#888" stroke-width="0.7" fill="none" />
<rect x="835.55" y="270.7" width="2.2" height="23" rx="1" stroke="#888" stroke-width="0.7" fill="none" />
<rect x="838.3" y="270.7" width="2.2" height="23" rx="1" stroke="#888" stroke-width="0.7" fill="none" />
<circle cx="599.1" cy="211.3" r="1.25" stroke="#888" stroke-width="0" fill="#8e8e8e" />
<circle cx="603.6" cy="211.3" r="1.25" stroke="#888" stroke-width="0" fill="#8e8e8e" />
<circle cx="608.1" cy="211.3" r="1.25" stroke="#888" stroke-width="0" fill="#8e8e8e" />
<circle cx="594.6" cy="215.7" r="1.25" stroke="#888" stroke-width="0" fill="#8e8e8e" />
<circle cx="599.1" cy="215.7" r="1.25" stroke="#888" stroke-width="0" fill="#8e8e8e" />
<circle cx="603.6" cy="215.7" r="1.25" stroke="#888" stroke-width="0" fill="#8e8e8e" />
<circle cx="608.1" cy="215.7" r="1.25" stroke="#888" stroke-width="0" fill="#8e8e8e" />
<circle cx="612.6" cy="215.7" r="1.25" stroke="#888" stroke-width="0" fill="#8e8e8e" />
<circle cx="594.6" cy="220.1" r="1.25" stroke="#888" stroke-width="0" fill="#8e8e8e" />
<circle cx="599.1" cy="220.1" r="1.25" stroke="#888" stroke-width="0" fill="#8e8e8e" />
<circle cx="603.6" cy="220.1" r="1.25" stroke="#888" stroke-width="0" fill="#8e8e8e" />
<circle cx="608.1" cy="220.1" r="1.25" stroke="#888" stroke-width="0" fill="#8e8e8e" />
<circle cx="612.6" cy="220.1" r="1.25" stroke="#888" stroke-width="0" fill="#8e8e8e" />
<circle cx="594.6" cy="224.5" r="1.25" stroke="#888" stroke-width="0" fill="#8e8e8e" />
<circle cx="599.1" cy="224.5" r="1.25" stroke="#888" stroke-width="0" fill="#8e8e8e" />
<circle cx="603.6" cy="224.5" r="1.25" stroke="#888" stroke-width="0" fill="#8e8e8e" />
<circle cx="608.1" cy="224.5" r="1.25" stroke="#888" stroke-width="0" fill="#8e8e8e" />
<circle cx="612.6" cy="224.5" r="1.25" stroke="#888" stroke-width="0" fill="#8e8e8e" />
<circle cx="599.1" cy="228.9" r="1.25" stroke="#888" stroke-width="0" fill="#8e8e8e" />
<circle cx="603.6" cy="228.9" r="1.25" stroke="#888" stroke-width="0" fill="#8e8e8e" />
<circle cx="608.1" cy="228.9" r="1.25" stroke="#888" stroke-width="0" fill="#8e8e8e" />
<circle cx="801.9" cy="211.3" r="1.25" stroke="#888" stroke-width="0" fill="#8e8e8e" />
<circle cx="806.4" cy="211.3" r="1.25" stroke="#888" stroke-width="0" fill="#8e8e8e" />
<circle cx="810.9" cy="211.3" r="1.25" stroke="#888" stroke-width="0" fill="#8e8e8e" />
<circle cx="797.4" cy="215.7" r="1.25" stroke="#888" stroke-width="0" fill="#8e8e8e" />
<circle cx="801.9" cy="215.7" r="1.25" stroke="#888" stroke-width="0" fill="#8e8e8e" />
<circle cx="806.4" cy="215.7" r="1.25" stroke="#888" stroke-width="0" fill="#8e8e8e" />
<circle cx="810.9" cy="215.7" r="1.25" stroke="#888" stroke-width="0" fill="#8e8e8e" />
<circle cx="815.4" cy="215.7" r="1.25" stroke="#888" stroke-width="0" fill="#8e8e8e" />
<circle cx="797.4" cy="220.1" r="1.25" stroke="#888" stroke-width="0" fill="#8e8e8e" />
<circle cx="801.9" cy="220.1" r="1.25" stroke="#888" stroke-width="0" fill="#8e8e8e" />
<circle cx="806.4" cy="220.1" r="1.25" stroke="#888" stroke-width="0" fill="#8e8e8e" />
<circle cx="810.9" cy="220.1" r="1.25" stroke="#888" stroke-width="0" fill="#8e8e8e" />
<circle cx="815.4" cy="220.1" r="1.25" stroke="#888" stroke-width="0" fill="#8e8e8e" />
<circle cx="797.4" cy="224.5" r="1.25" stroke="#888" stroke-width="0" fill="#8e8e8e" />
<circle cx="801.9" cy="224.5" r="1.25" stroke="#888" stroke-width="0" fill="#8e8e8e" />
<circle cx="806.4" cy="224.5" r="1.25" stroke="#888" stroke-width="0" fill="#8e8e8e" />
<circle cx="810.9" cy="224.5" r="1.25" stroke="#888" stroke-width="0" fill="#8e8e8e" />
<circle cx="815.4" cy="224.5" r="1.25" stroke="#888" stroke-width="0" fill="#8e8e8e" />
<circle cx="801.9" cy="228.9" r="1.25" stroke="#888" stroke-width="0" fill="#8e8e8e" />
<circle cx="806.4" cy="228.9" r="1.25" stroke="#888" stroke-width="0" fill="#8e8e8e" />
<circle cx="810.9" cy="228.9" r="1.25" stroke="#888" stroke-width="0" fill="#8e8e8e" />
<circle cx="675.7" cy="213" r="1.6" stroke="#222" stroke-width="1.1" fill="none" />
<circle cx="685.5" cy="213" r="1.6" stroke="#222" stroke-width="1.1" fill="none" />
<circle cx="695.3" cy="213" r="1.6" stroke="#222" stroke-width="1.1" fill="none" />
<circle cx="705.4" cy="213" r="1.6" stroke="#222" stroke-width="1.1" fill="none" />
<circle cx="715.2" cy="213" r="1.6" stroke="#222" stroke-width="1.1" fill="none" />
<circle cx="725.3" cy="213" r="1.6" stroke="#222" stroke-width="1.1" fill="none" />
<circle cx="735.2" cy="213" r="1.6" stroke="#222" stroke-width="1.1" fill="none" />
<circle cx="675.7" cy="217" r="0.5" stroke="#333" stroke-width="0" fill="#333" />
<circle cx="685.5" cy="217" r="0.5" stroke="#333" stroke-width="0" fill="#333" />
<circle cx="695.3" cy="217" r="0.5" stroke="#333" stroke-width="0" fill="#333" />
<circle cx="705.4" cy="217" r="0.5" stroke="#333" stroke-width="0" fill="#333" />
<rect x="712.9" y="216.4" width="4.6" height="1.2" rx="0" stroke="#333" stroke-width="0" fill="#333" />
<rect x="723" y="216.4" width="4.6" height="1.2" rx="0" stroke="#333" stroke-width="0" fill="#333" />
<rect x="732.9" y="216.4" width="4.6" height="1.2" rx="0" stroke="#333" stroke-width="0" fill="#333" />
<circle cx="674.5" cy="221.3" r="2.1" stroke="#888" stroke-width="1" fill="none" />
<circle cx="731.4" cy="222.2" r="1.8" stroke="#222" stroke-width="1.1" fill="none" />
<text x="0" y="0" transform="translate(640.2,324.5) scale(1.2,1)" font-family="Liberation Sans, sans-serif" font-size="3.5" letter-spacing="0" fill="#222" text-anchor="middle">~</text>
<text x="0" y="0" transform="translate(657.8,324.5) scale(1.2,1)" font-family="Liberation Sans, sans-serif" font-size="3.5" letter-spacing="0" fill="#222" text-anchor="middle">HDM</text>
<text x="0" y="0" transform="translate(683.7,324.5) scale(1.2,1)" font-family="Liberation Sans, sans-serif" font-size="3.5" letter-spacing="0" fill="#222" text-anchor="middle">VGA</text>
<text x="0" y="0" transform="translate(705.5,324.5) scale(1.2,1)" font-family="Liberation Sans, sans-serif" font-size="3.5" letter-spacing="0" fill="#222" text-anchor="middle">Y</text>
<text x="0" y="0" transform="translate(719.4,324.5) scale(1.2,1)" font-family="Liberation Sans, sans-serif" font-size="3.5" letter-spacing="0" fill="#222" text-anchor="middle">Pb</text>
<text x="0" y="0" transform="translate(733.5,324.5) scale(1.2,1)" font-family="Liberation Sans, sans-serif" font-size="3.5" letter-spacing="0" fill="#222" text-anchor="middle">Pr</text>
<text x="0" y="0" transform="translate(750.1,324.5) scale(1.2,1)" font-family="Liberation Sans, sans-serif" font-size="3.5" letter-spacing="0" fill="#222" text-anchor="middle">AV1</text>
<text x="0" y="0" transform="translate(763.6,324.5) scale(1.2,1)" font-family="Liberation Sans, sans-serif" font-size="3.5" letter-spacing="0" fill="#222" text-anchor="middle">AV2</text>
<text x="0" y="0" transform="translate(777.5,324.5) scale(1.2,1)" font-family="Liberation Sans, sans-serif" font-size="3.5" letter-spacing="0" fill="#222" text-anchor="middle">AVOUT</text>
<text x="0" y="0" transform="translate(789.5,324.5) scale(1.2,1)" font-family="Liberation Sans, sans-serif" font-size="3.5" letter-spacing="0" fill="#222" text-anchor="middle">PC</text>
<text x="0" y="0" transform="translate(800.9,324.5) scale(1.2,1)" font-family="Liberation Sans, sans-serif" font-size="3.5" letter-spacing="0" fill="#222" text-anchor="middle">AV</text>
<text x="0" y="0" transform="translate(812.3,324.5) scale(1.2,1)" font-family="Liberation Sans, sans-serif" font-size="3.5" letter-spacing="0" fill="#222" text-anchor="middle">12V</text>
<line x1="634" y1="328" x2="646.4" y2="328" stroke="#777" stroke-width="0.8" />
<line x1="652.6" y1="328" x2="664" y2="328" stroke="#777" stroke-width="0.8" />
<rect x="677.5" y="327" width="13.5" height="3.4" rx="0" stroke="#777" stroke-width="0.8" fill="none" />
<rect x="671.3" y="327" width="4.1" height="3.4" rx="0" stroke="#777" stroke-width="0.8" fill="none" />
<rect x="692.4" y="327" width="4.2" height="3.4" rx="0" stroke="#777" stroke-width="0.8" fill="none" />
<rect x="702.1" y="327.7" width="8.2" height="16.6" rx="0" stroke="#777" stroke-width="0.9" fill="#f7f7f7" />
<rect x="702.1" y="327.7" width="8.2" height="7" rx="0" stroke="#222" stroke-width="0.5" fill="#1a1a1a" />
<line x1="706.2" y1="328" x2="706.2" y2="334.5" stroke="#e8e8e8" stroke-width="1.6" />
<rect x="715.3" y="327.7" width="8.2" height="16.6" rx="0" stroke="#777" stroke-width="0.9" fill="#f7f7f7" />
<rect x="715.3" y="327.7" width="8.2" height="7" rx="0" stroke="#222" stroke-width="0.5" fill="#1a1a1a" />
<line x1="719.4" y1="328" x2="719.4" y2="334.5" stroke="#e8e8e8" stroke-width="1.6" />
<rect x="729.4" y="327.7" width="8.2" height="16.6" rx="0" stroke="#777" stroke-width="0.9" fill="#f7f7f7" />
<rect x="729.4" y="327.7" width="8.2" height="7" rx="0" stroke="#222" stroke-width="0.5" fill="#1a1a1a" />
<line x1="733.5" y1="328" x2="733.5" y2="334.5" stroke="#e8e8e8" stroke-width="1.6" />
<rect x="746" y="327.7" width="8.2" height="16.6" rx="0" stroke="#777" stroke-width="0.9" fill="#f7f7f7" />
<rect x="746" y="327.7" width="8.2" height="7" rx="0" stroke="#222" stroke-width="0.5" fill="#1a1a1a" />
<line x1="750.1" y1="328" x2="750.1" y2="334.5" stroke="#e8e8e8" stroke-width="1.6" />
<rect x="759.5" y="327.7" width="8.2" height="16.6" rx="0" stroke="#777" stroke-width="0.9" fill="#f7f7f7" />
<rect x="759.5" y="327.7" width="8.2" height="7" rx="0" stroke="#222" stroke-width="0.5" fill="#1a1a1a" />
<line x1="763.6" y1="328" x2="763.6" y2="334.5" stroke="#e8e8e8" stroke-width="1.6" />
<rect x="773.4" y="327.7" width="8.2" height="16.6" rx="0" stroke="#777" stroke-width="0.9" fill="#f7f7f7" />
<rect x="773.4" y="327.7" width="8.2" height="7" rx="0" stroke="#222" stroke-width="0.5" fill="#1a1a1a" />
<line x1="777.5" y1="328" x2="777.5" y2="334.5" stroke="#e8e8e8" stroke-width="1.6" />
<rect x="787.4" y="327" width="5.2" height="2.8" rx="0" stroke="#888" stroke-width="0.8" fill="none" />
<rect x="798.2" y="327" width="5.4" height="2.8" rx="0" stroke="#888" stroke-width="0.8" fill="none" />
<rect x="809.2" y="327" width="7.2" height="2.8" rx="0" stroke="#888" stroke-width="0.8" fill="none" />
<line x1="114" y1="462.5" x2="144" y2="462.5" stroke="#333" stroke-width="1" />
<line x1="114" y1="464.7" x2="140.5" y2="464.7" stroke="#333" stroke-width="1" />
<line x1="114" y1="462.5" x2="114" y2="464.7" stroke="#333" stroke-width="0.9" />
<path d="M140.5 464.7L141.3 466" stroke="#333" stroke-width="0.9" fill="none" />
<line x1="141.3" y1="465.5" x2="141.3" y2="493.5" stroke="#333" stroke-width="1.1" />
<line x1="144.2" y1="462.5" x2="144.2" y2="497.3" stroke="#333" stroke-width="1.1" />
<line x1="141.3" y1="493.5" x2="144.2" y2="493.5" stroke="#333" stroke-width="1" />
<path d="M144.2 497.3L711.3 497.3L711.3 465.5Q711.3 462.5 708.3 462.5L144.2 462.5" stroke="#333" stroke-width="1.1" fill="none" />
<line x1="183" y1="464.7" x2="672" y2="464.7" stroke="#333" stroke-width="1" />
<line x1="144.2" y1="466.6" x2="182.8" y2="466.6" stroke="#555" stroke-width="0.9" />
<line x1="672" y1="466.6" x2="710" y2="466.6" stroke="#555" stroke-width="0.9" />
<path d="M182.8 463L182.8 485.5Q182.8 493.8 191 493.8L663.6 493.8Q671.9 493.8 671.9 485.5L671.9 463" stroke="#333" stroke-width="1.1" fill="none" />
<line x1="711.3" y1="466" x2="711.3" y2="497.3" stroke="#333" stroke-width="1.1" />
<line x1="713.8" y1="465.5" x2="713.8" y2="493.6" stroke="#333" stroke-width="1.1" />
<line x1="711.3" y1="493.6" x2="713.8" y2="493.6" stroke="#333" stroke-width="1" />
<line x1="708" y1="462.5" x2="740.7" y2="462.5" stroke="#333" stroke-width="1" />
<line x1="714.5" y1="464.7" x2="740.7" y2="464.7" stroke="#333" stroke-width="1" />
<line x1="740.7" y1="462.5" x2="740.7" y2="464.7" stroke="#333" stroke-width="0.9" />
<path d="M714.5 464.7L713.8 466" stroke="#333" stroke-width="0.9" fill="none" />
<line x1="198" y1="462.3" x2="204" y2="462.3" stroke="#555" stroke-width="1.3" />
<line x1="183" y1="462.3" x2="187" y2="462.3" stroke="#555" stroke-width="1.0" />
<circle cx="219.5" cy="482.6" r="5" stroke="#1a1a1a" stroke-width="1.9" fill="#c8c8c8" />
<line x1="215.4" y1="482.6" x2="223.6" y2="482.6" stroke="#222" stroke-width="1.5" />
<line x1="219.5" y1="478.5" x2="219.5" y2="486.7" stroke="#222" stroke-width="1.5" />
<circle cx="219.5" cy="482.6" r="1.1" stroke="#f7f7f7" stroke-width="0" fill="#f0f0f0" />
<circle cx="427.9" cy="482.6" r="5" stroke="#1a1a1a" stroke-width="1.9" fill="#c8c8c8" />
<line x1="423.8" y1="482.6" x2="432" y2="482.6" stroke="#222" stroke-width="1.5" />
<line x1="427.9" y1="478.5" x2="427.9" y2="486.7" stroke="#222" stroke-width="1.5" />
<circle cx="427.9" cy="482.6" r="1.1" stroke="#f7f7f7" stroke-width="0" fill="#f0f0f0" />
<circle cx="635" cy="482.6" r="5" stroke="#1a1a1a" stroke-width="1.9" fill="#c8c8c8" />
<line x1="630.9" y1="482.6" x2="639.1" y2="482.6" stroke="#222" stroke-width="1.5" />
<line x1="635" y1="478.5" x2="635" y2="486.7" stroke="#222" stroke-width="1.5" />
<circle cx="635" cy="482.6" r="1.1" stroke="#f7f7f7" stroke-width="0" fill="#f0f0f0" />
<path d="M164.2 497.5Q164.5 502.5 171.5 502.5Q178.5 502.5 179 497.5Z" stroke="#333" stroke-width="0.8" fill="#7a7a7a" />
<path d="M674.6 497.5Q675 502.5 682 502.5Q689.2 502.5 689.5 497.5Z" stroke="#333" stroke-width="0.8" fill="#7a7a7a" />
<rect x="378" y="497.3" width="23.5" height="3.4" rx="1" stroke="#555" stroke-width="0.8" fill="#eee" />
<path d="M383.5 497.5Q389.7 503.5 396 497.5Z" stroke="#222" stroke-width="0.6" fill="#333" />
<path d="M180 497.5L180 542.5Q180 548 185.5 548L669.4 548Q674.9 548 674.9 542.5L674.9 497.5" stroke="#333" stroke-width="1.1" fill="none" />
<line x1="183" y1="544" x2="672" y2="544" stroke="#333" stroke-width="1" />
<rect x="353.6" y="548" width="5" height="2.4" rx="0.8" stroke="#555" stroke-width="0.7" fill="none" />
<rect x="376.9" y="548" width="4.9" height="2.4" rx="0.8" stroke="#555" stroke-width="0.7" fill="none" />
<rect x="400" y="548" width="5" height="2.4" rx="0.8" stroke="#555" stroke-width="0.7" fill="none" />
<rect x="424" y="548" width="6" height="2.4" rx="0.8" stroke="#555" stroke-width="0.7" fill="none" />
<rect x="449" y="548" width="5.8" height="2.4" rx="0.8" stroke="#555" stroke-width="0.7" fill="none" />
<rect x="472" y="548" width="5.8" height="2.4" rx="0.8" stroke="#555" stroke-width="0.7" fill="none" />
<rect x="495" y="548" width="5.8" height="2.4" rx="0.8" stroke="#555" stroke-width="0.7" fill="none" />
<rect x="210.6" y="509" width="22" height="25.2" rx="1.8" stroke="#333" stroke-width="1.3" fill="none" />
<rect x="212.4" y="510.8" width="18.4" height="21.6" rx="0.8" stroke="#555" stroke-width="0.8" fill="none" />
<line x1="213.2" y1="511.5" x2="213.2" y2="531.8" stroke="#999" stroke-width="1.4" />
<line x1="213" y1="531.6" x2="230.2" y2="531.6" stroke="#999" stroke-width="1.6" />
<circle cx="221.6" cy="523.1" r="6.3" stroke="#444" stroke-width="1" fill="none" />
<circle cx="221.6" cy="523.1" r="1.6" stroke="#444" stroke-width="0.9" fill="none" />
<circle cx="249.6" cy="520.6" r="8.3" stroke="#1a1a1a" stroke-width="1.3" fill="none" />
<circle cx="249.6" cy="520.6" r="5.5" stroke="#1a1a1a" stroke-width="2.3" fill="none" />
<circle cx="249.6" cy="520.6" r="6.9" stroke="#888" stroke-width="0.6" fill="none" />
<circle cx="274.7" cy="520.9" r="8.3" stroke="#1a1a1a" stroke-width="1.3" fill="none" />
<circle cx="274.7" cy="520.9" r="5.5" stroke="#1a1a1a" stroke-width="2.3" fill="none" />
<circle cx="274.7" cy="520.9" r="6.9" stroke="#888" stroke-width="0.6" fill="none" />
<circle cx="304.6" cy="524.8" r="13.5" stroke="#333" stroke-width="0.9" fill="none" />
<circle cx="304.6" cy="524.8" r="11.4" stroke="#333" stroke-width="0.9" fill="none" />
<circle cx="304.6" cy="524.8" r="8.15" stroke="#151515" stroke-width="3.1" fill="none" />
<circle cx="304.6" cy="524.8" r="2.75" stroke="#1a1a1a" stroke-width="1.5" fill="none" />
<circle cx="336.9" cy="524.8" r="13.5" stroke="#333" stroke-width="0.9" fill="none" />
<circle cx="336.9" cy="524.8" r="11.4" stroke="#333" stroke-width="0.9" fill="none" />
<circle cx="336.9" cy="524.8" r="8.15" stroke="#151515" stroke-width="3.1" fill="none" />
<circle cx="336.9" cy="524.8" r="2.75" stroke="#1a1a1a" stroke-width="1.5" fill="none" />
<circle cx="369.1" cy="524.8" r="13.5" stroke="#333" stroke-width="0.9" fill="none" />
<circle cx="369.1" cy="524.8" r="11.4" stroke="#333" stroke-width="0.9" fill="none" />
<circle cx="369.1" cy="524.8" r="8.15" stroke="#151515" stroke-width="3.1" fill="none" />
<circle cx="369.1" cy="524.8" r="2.75" stroke="#1a1a1a" stroke-width="1.5" fill="none" />
<circle cx="408.9" cy="524.8" r="13.5" stroke="#333" stroke-width="0.9" fill="none" />
<circle cx="408.9" cy="524.8" r="11.4" stroke="#333" stroke-width="0.9" fill="none" />
<circle cx="408.9" cy="524.8" r="8.15" stroke="#151515" stroke-width="3.1" fill="none" />
<circle cx="408.9" cy="524.8" r="2.75" stroke="#1a1a1a" stroke-width="1.5" fill="none" />
<circle cx="441.3" cy="524.8" r="13.5" stroke="#333" stroke-width="0.9" fill="none" />
<circle cx="441.3" cy="524.8" r="11.4" stroke="#333" stroke-width="0.9" fill="none" />
<circle cx="441.3" cy="524.8" r="8.15" stroke="#151515" stroke-width="3.1" fill="none" />
<circle cx="441.3" cy="524.8" r="2.75" stroke="#1a1a1a" stroke-width="1.5" fill="none" />
<circle cx="474" cy="524.8" r="13.5" stroke="#333" stroke-width="0.9" fill="none" />
<circle cx="474" cy="524.8" r="11.4" stroke="#333" stroke-width="0.9" fill="none" />
<circle cx="474" cy="524.8" r="8.15" stroke="#151515" stroke-width="3.1" fill="none" />
<circle cx="474" cy="524.8" r="2.75" stroke="#1a1a1a" stroke-width="1.5" fill="none" />
<path d="M509.8 510.8L541.7 510.8Q543.7 510.8 543.7 512.8L543.7 516.2L551 516.2A6.2 6.2 0 0 1 551 528.6L543.7 528.6L543.7 530.9Q543.7 532.9 541.7 532.9L509.8 532.9Q507.8 532.9 507.8 530.9L507.8 528.6L500.5 528.6A6.2 6.2 0 0 1 500.5 516.2L507.8 516.2L507.8 512.8Q507.8 510.8 509.8 510.8Z" stroke="#1a1a1a" stroke-width="1.5" fill="none" />
<path d="M513.5 514.2L538 514.2Q539.3 514.2 539.2 515.4L540.6 528.8Q540.7 530 539.5 530L511.9 530Q510.7 530 510.8 528.8L512.3 515.4Q512.3 514.2 513.5 514.2Z" stroke="#1a1a1a" stroke-width="1.3" fill="none" />
<circle cx="515.4" cy="516.7" r="1.05" stroke="#222" stroke-width="0" fill="#333" />
<circle cx="513.9" cy="522" r="1.05" stroke="#222" stroke-width="0" fill="#333" />
<circle cx="515.6" cy="527.1" r="1.05" stroke="#222" stroke-width="0" fill="#333" />
<circle cx="520.48" cy="516.7" r="1.05" stroke="#222" stroke-width="0" fill="#333" />
<circle cx="518.8" cy="522" r="1.05" stroke="#222" stroke-width="0" fill="#333" />
<circle cx="520.6" cy="527.1" r="1.05" stroke="#222" stroke-width="0" fill="#333" />
<circle cx="525.56" cy="516.7" r="1.05" stroke="#222" stroke-width="0" fill="#333" />
<circle cx="523.7" cy="522" r="1.05" stroke="#222" stroke-width="0" fill="#333" />
<circle cx="525.6" cy="527.1" r="1.05" stroke="#222" stroke-width="0" fill="#333" />
<circle cx="530.64" cy="516.7" r="1.05" stroke="#222" stroke-width="0" fill="#333" />
<circle cx="528.6" cy="522" r="1.05" stroke="#222" stroke-width="0" fill="#333" />
<circle cx="530.6" cy="527.1" r="1.05" stroke="#222" stroke-width="0" fill="#333" />
<circle cx="535.72" cy="516.7" r="1.05" stroke="#222" stroke-width="0" fill="#333" />
<circle cx="533.5" cy="522" r="1.05" stroke="#222" stroke-width="0" fill="#333" />
<circle cx="535.6" cy="527.1" r="1.05" stroke="#222" stroke-width="0" fill="#333" />
<polygon points="505.20,522.40 503.05,526.12 498.75,526.12 496.60,522.40 498.75,518.68 503.05,518.68" stroke="#444" stroke-width="0.8" fill="none"/>
<circle cx="500.9" cy="522.4" r="3.2" stroke="#555" stroke-width="0.7" fill="none" />
<circle cx="500.9" cy="522.4" r="1.9" stroke="#222" stroke-width="1.1" fill="none" />
<polygon points="554.50,522.40 552.35,526.12 548.05,526.12 545.90,522.40 548.05,518.68 552.35,518.68" stroke="#444" stroke-width="0.8" fill="none"/>
<circle cx="550.2" cy="522.4" r="3.2" stroke="#555" stroke-width="0.7" fill="none" />
<circle cx="550.2" cy="522.4" r="1.9" stroke="#222" stroke-width="1.1" fill="none" />
<rect x="570.6" y="509" width="33.2" height="16" rx="2" stroke="#1a1a1a" stroke-width="1.6" fill="none" />
<line x1="572" y1="510.7" x2="602.2" y2="510.7" stroke="#111" stroke-width="1.6" />
<path d="M573.5 512.3L601.3 512.3L601.3 517L598 521.6L577 521.6L573.5 517Z" stroke="#333" stroke-width="1" fill="none" />
<rect x="575.5" y="517.9" width="21.2" height="2" rx="0" stroke="#111" stroke-width="0" fill="#111" />
<rect x="579.5" y="520" width="15" height="1.6" rx="0" stroke="#999" stroke-width="0" fill="#9a9a9a" />
<rect x="612.2" y="509.2" width="32.6" height="18.6" rx="2" stroke="#1a1a1a" stroke-width="1.6" fill="none" />
<rect x="613.6" y="510.6" width="29.8" height="15.8" rx="1" stroke="#aaa" stroke-width="0" fill="#ababab" />
<path d="M617.2 512.8L639 512.8L641 515.2L641 521.9L639 524.3L617.2 524.3L615.2 521.9L615.2 515.2Z" stroke="#222" stroke-width="0.9" fill="#f7f7f7" />
<rect x="620" y="517.2" width="16.8" height="2.3" rx="0" stroke="#111" stroke-width="0" fill="#111" />
<line x1="249.6" y1="451.5" x2="249.6" y2="512.2" stroke="#222" stroke-width="1.3" />
<line x1="304.6" y1="450.5" x2="304.6" y2="511.2" stroke="#222" stroke-width="1.3" />
<line x1="368.6" y1="450.5" x2="368.6" y2="511.2" stroke="#222" stroke-width="1.3" />
<line x1="525" y1="451.5" x2="525" y2="510.8" stroke="#222" stroke-width="1.3" />
<line x1="627.6" y1="449.5" x2="627.6" y2="509" stroke="#222" stroke-width="1.3" />
<line x1="221.6" y1="534.2" x2="221.6" y2="580.8" stroke="#222" stroke-width="1.3" />
<line x1="274.7" y1="529.3" x2="274.7" y2="580.8" stroke="#222" stroke-width="1.3" />
<line x1="336.9" y1="538.4" x2="336.9" y2="580.8" stroke="#222" stroke-width="1.3" />
<line x1="587.4" y1="524.9" x2="587.4" y2="582.2" stroke="#222" stroke-width="1.3" />
<path d="M408.8 538.9L408.8 565L474 565L474 538.9" stroke="#222" stroke-width="1.3" fill="none" />
<line x1="441.3" y1="565" x2="441.3" y2="584" stroke="#222" stroke-width="1.3" />
</svg>
</body></html>
